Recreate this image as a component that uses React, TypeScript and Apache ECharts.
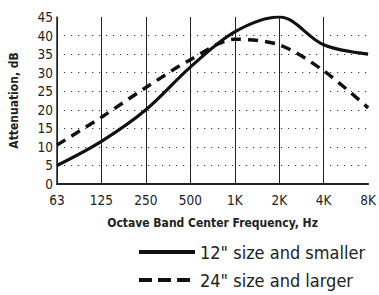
import React, { useEffect, useRef } from "react";
import * as echarts from "echarts";

const categories = ["63", "125", "250", "500", "1K", "2K", "4K", "8K"];
const small = [5, 11.5, 20, 31.5, 41, 45, 37.5, 35];
const large = [10.5, 18, 26, 33.5, 39, 37.5, 30.5, 20.5];
const seriesNames = ['12" size and smaller', '24" size and larger'];

const FONT = "'DejaVu Sans Condensed', 'Liberation Sans Narrow', sans-serif";

export default function App() {
  const ref = useRef<HTMLDivElement>(null);
  useEffect(() => {
    const chart = echarts.init(ref.current!, null, { renderer: "svg" });
    chart.setOption({
      animation: false,
      textStyle: { fontFamily: FONT },
      grid: { left: 50, right: 8, top: 17, bottom: 111 },
      legend: {
        orient: "vertical",
        left: 132,
        top: 238,
        itemWidth: 56,
        itemHeight: 14,
        itemGap: 10,
        data: [
          { name: seriesNames[0], lineStyle: { width: 4, type: "solid" } },
          { name: seriesNames[1], lineStyle: { width: 4, type: [13, 6] } },
        ],
        itemStyle: { opacity: 0, borderWidth: 0 },
        textStyle: { fontSize: 18, color: "#222", fontFamily: FONT },
      },
      xAxis: {
        type: "category",
        data: categories,
        boundaryGap: false,
        name: "Octave Band Center Frequency, Hz",
        nameLocation: "middle",
        nameGap: 33,
        nameTextStyle: { fontWeight: "bold", fontSize: 12, color: "#222", fontFamily: FONT },
        axisLine: { lineStyle: { color: "#222", width: 2 } },
        axisTick: { show: false },
        axisLabel: { fontSize: 13.5, color: "#222", margin: 9 },
        splitLine: { show: true, showMaxLine: false, lineStyle: { color: "#222", width: 1 } },
      },
      yAxis: {
        type: "value",
        min: 0,
        max: 45,
        interval: 5,
        name: "Attenuation, dB",
        nameLocation: "middle",
        nameGap: 37,
        nameTextStyle: { fontWeight: "bold", fontSize: 12, color: "#222", fontFamily: FONT },
        axisLine: { show: true, lineStyle: { color: "#222", width: 1.5 } },
        axisTick: { show: false },
        axisLabel: { fontSize: 13.5, color: "#222", margin: 4 },
        splitLine: {
          show: true,
          showMinLine: false,
          showMaxLine: false,
          lineStyle: { color: "#333", width: 1.2, type: [1.2, 5.8] },
        },
      },
      series: [
        {
          name: seriesNames[0],
          type: "line",
          data: small,
          smooth: 0.35,
          symbol: "none",
          lineStyle: { color: "#111", width: 3.2, type: "solid" },
          itemStyle: { color: "#111" },
        },
        {
          name: seriesNames[1],
          type: "line",
          data: large,
          smooth: 0.3,
          symbol: "none",
          lineStyle: { color: "#111", width: 3.5, type: [10, 7] },
          itemStyle: { color: "#111" },
        },
      ],
    });
    return () => chart.dispose();
  }, []);
  return <div ref={ref} style={{ width: 379, height: 295, position: "absolute", left: 0, top: 0 }} />;
}
